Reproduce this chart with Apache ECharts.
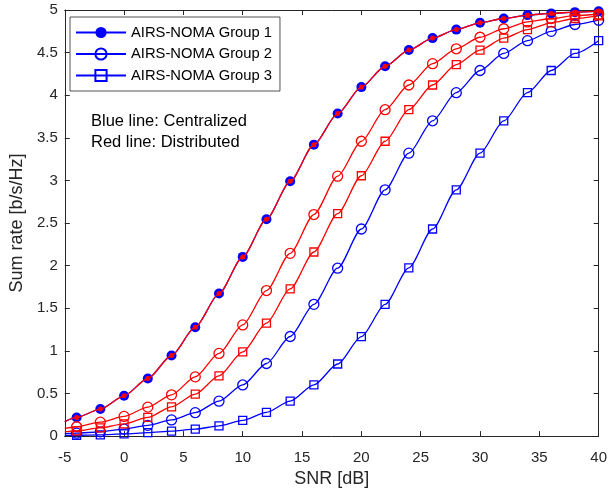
<!DOCTYPE html>
<html>
<head>
<meta charset="utf-8">
<script src="https://cdn.jsdelivr.net/npm/echarts@6/dist/echarts.min.js"></script>
<style>
html,body{margin:0;padding:0;background:#fff;}
#chart{width:610px;height:493px;}
</style>
</head>
<body>
<div id="chart"></div>
<script>
// SNR values where markers are placed
const snr = [-4,-2,0,2,4,6,8,10,12,14,16,18,20,22,24,26,28,30,32,34,36,38,40];
const edgeSnr = -5;

// Centralized (blue)
const cenG1 = [0.219,0.317,0.473,0.676,0.946,1.278,1.673,2.103,2.545,2.99,3.42,3.785,4.095,4.34,4.53,4.67,4.77,4.85,4.90,4.94,4.96,4.975,4.986];
const cenG2 = [0.035,0.05,0.082,0.126,0.19,0.275,0.41,0.60,0.852,1.169,1.546,1.97,2.43,2.89,3.32,3.70,4.03,4.29,4.49,4.64,4.75,4.83,4.88];
const cenG3 = [0.01,0.015,0.025,0.04,0.058,0.082,0.12,0.184,0.278,0.41,0.60,0.846,1.168,1.546,1.975,2.43,2.89,3.32,3.70,4.03,4.29,4.49,4.64];
// Distributed (red)
const disG1 = [0.219,0.317,0.473,0.676,0.946,1.278,1.673,2.103,2.545,2.99,3.42,3.785,4.095,4.34,4.53,4.67,4.77,4.85,4.90,4.94,4.96,4.975,4.986];
const disG2 = [0.11,0.164,0.231,0.34,0.484,0.695,0.97,1.305,1.708,2.145,2.60,3.05,3.46,3.83,4.12,4.37,4.545,4.68,4.78,4.86,4.90,4.935,4.95];
const disG3 = [0.062,0.097,0.144,0.219,0.344,0.492,0.707,0.988,1.325,1.727,2.16,2.61,3.055,3.46,3.83,4.12,4.36,4.53,4.67,4.77,4.85,4.90,4.93];
// Line values at the left edge (SNR = -5 dB), no marker there
const edgeVals = {cenG1:0.17, cenG2:0.03, cenG3:0.008, disG1:0.17, disG2:0.09, disG3:0.05};

const legendNames = ['AIRS-NOMA Group 1','AIRS-NOMA Group 2','AIRS-NOMA Group 3'];
const noteLines = ['Blue line: Centralized','Red line: Distributed'];

const BLUE = '#0000ff', RED = '#ff0000', AX = '#262626';
const FONT = '"Liberation Sans", Arial, Helvetica, sans-serif';

function build(vals, edge){
  const d = [{value:[edgeSnr, edge], symbol:'none'}];
  for (let i = 0; i < snr.length; i++) d.push([snr[i], vals[i]]);
  return d;
}

function mkSeries(name, vals, edge, color, symbol, size, filled, z){
  return {
    name: name,
    type: 'line',
    data: build(vals, edge),
    smooth: 0.25,
    smoothMonotone: 'x',
    symbol: symbol,
    symbolSize: size,
    showAllSymbol: true,
    z: z,
    lineStyle: {color: color, width: 1.3},
    itemStyle: {color: filled ? color : '#ffffff00', borderColor: color, borderWidth: filled ? 0 : 1.3},
    emphasis: {disabled: true},
    animation: false
  };
}

const chart = echarts.init(document.getElementById('chart'), null, {renderer:'canvas'});

const axisCommon = {
  axisLine: {show: true, onZero: false, lineStyle: {color: AX, width: 1}},
  axisTick: {show: true, inside: true, length: 5, lineStyle: {color: AX, width: 1}},
  splitLine: {show: false}
};

chart.setOption({
  backgroundColor: '#ffffff',
  animation: false,
  grid: {left: 62, right: 9, top: 10, bottom: 56, containLabel: false},
  xAxis: [
    Object.assign({
      type: 'value', min: -5, max: 40, interval: 5, position: 'bottom',
      name: 'SNR [dB]', nameLocation: 'middle', nameGap: 33,
      nameTextStyle: {color: AX, fontSize: 18, fontFamily: FONT},
      axisLabel: {color: AX, fontSize: 15, fontFamily: FONT, margin: 14}
    }, axisCommon),
    Object.assign({
      type: 'value', min: -5, max: 40, interval: 5, position: 'top',
      axisLabel: {show: false}
    }, axisCommon)
  ],
  yAxis: [
    Object.assign({
      type: 'value', min: 0, max: 5, interval: 0.5, position: 'left',
      name: 'Sum rate [b/s/Hz]', nameLocation: 'middle', nameGap: 37, nameRotate: 90,
      nameTextStyle: {color: AX, fontSize: 18, fontFamily: FONT},
      axisLabel: {color: AX, fontSize: 15, fontFamily: FONT, margin: 7}
    }, axisCommon),
    Object.assign({
      type: 'value', min: 0, max: 5, interval: 0.5, position: 'right',
      axisLabel: {show: false}
    }, axisCommon)
  ],
  legend: {
    data: legendNames,
    orient: 'vertical',
    left: 70, top: 17,
    itemWidth: 50, itemHeight: 14, itemGap: 6.5,
    padding: [8, 8, 8, 5],
    backgroundColor: '#ffffff',
    borderColor: AX, borderWidth: 0.8, borderRadius: 0,
    textStyle: {color: '#000', fontSize: 14.75, fontFamily: FONT},
    selectedMode: false
  },
  graphic: [
    {type: 'text', x: 91, y: 121.7, style: {text: noteLines[0], fill: '#000', font: '16.5px ' + FONT, verticalAlign: 'middle'}},
    {type: 'text', x: 91, y: 142.7, style: {text: noteLines[1], fill: '#000', font: '16.5px ' + FONT, verticalAlign: 'middle'}}
  ],
  series: [
    mkSeries(legendNames[0], cenG1, edgeVals.cenG1, BLUE, 'circle', 10, true, 2),
    mkSeries(legendNames[1], cenG2, edgeVals.cenG2, BLUE, 'circle', 10, false, 2),
    mkSeries(legendNames[2], cenG3, edgeVals.cenG3, BLUE, 'rect', 8, false, 2),
    mkSeries('Distributed Group 1', disG1, edgeVals.disG1, RED, 'circle', 5, true, 3),
    mkSeries('Distributed Group 2', disG2, edgeVals.disG2, RED, 'circle', 10, false, 3),
    mkSeries('Distributed Group 3', disG3, edgeVals.disG3, RED, 'rect', 8, false, 3)
  ]
});
</script>
</body>
</html>
